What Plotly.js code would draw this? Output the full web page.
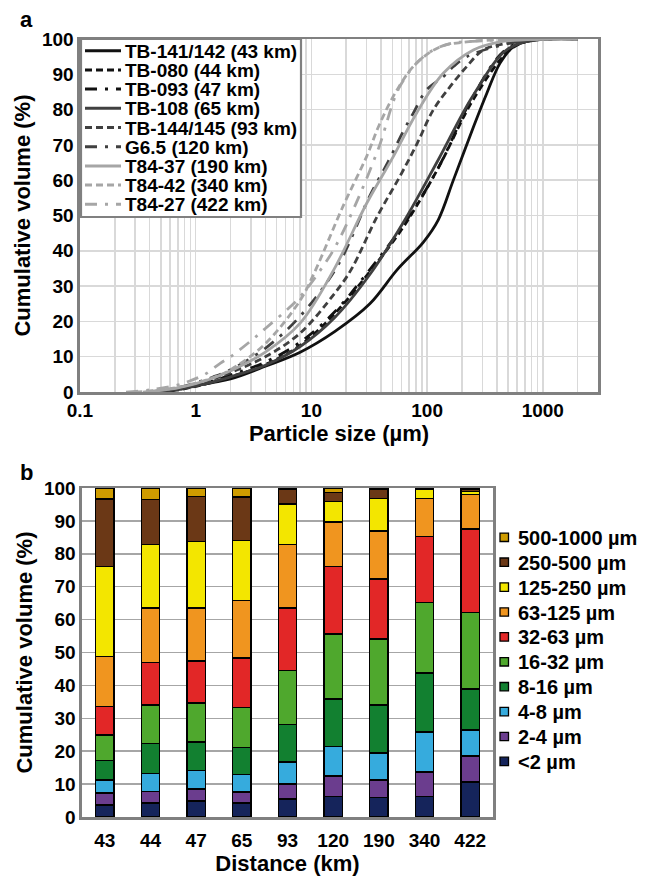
<!DOCTYPE html>
<html><head><meta charset="utf-8">
<script src="https://cdn.plot.ly/plotly-3.0.1.min.js"></script>
<style>html,body{margin:0;padding:0;background:#fff;}#chart{width:646px;height:879px;}</style>
</head><body><div id="chart"></div>
<script>
// ---------- Panel a: cumulative grain-size curves ----------
const curveNames = ['TB-141/142 (43 km)','TB-080 (44 km)','TB-093 (47 km)','TB-108 (65 km)','TB-144/145 (93 km)','G6.5 (120 km)','T84-37 (190 km)','T84-42 (340 km)','T84-27 (422 km)'];

const size141 = [0.45,0.7,1,1.4,2,4,8,16,32,55,93,125,169,251,327,426,555,800,2000];
const cum141  = [0,0.8,1.8,2.7,3.7,7.3,11.3,17.2,25.0,34.6,42.5,48.8,60.1,75.0,84.5,93.1,97.8,99.6,100];

const size080 = [0.5,0.7,1,1.4,2,4,8,16,32,63,125,250,500,700,1000,2000];
const cum080  = [0,0.6,1.6,2.8,4.3,7.8,13.2,22.3,34.1,47.0,63.5,82.8,96.5,99.2,100,100];

const size093 = [0.5,0.7,1,1.4,2,4,8,16,32,63,125,250,500,1000,2000];
const cum093  = [0,0.7,1.8,3.1,4.8,8.5,14.1,22.8,34.7,47.5,63.5,83.8,97.5,100,100];

const size108 = [0.45,0.7,1,1.4,2,4,8,16,32,63,125,250,500,1000,2000];
const cum108  = [0,0.7,1.7,2.8,4.3,7.6,12.9,21.2,33.3,48.3,65.8,84.0,97.2,100,100];

const size144 = [0.4,0.7,1,1.4,2,4,8,16,22,37,58,82,113,158,220,306,490,1000,2000];
const cum144  = [0,1.0,2.2,3.6,5.5,10.0,16.7,28.1,34.6,49.7,61.0,70.4,79.9,86.5,92.2,96.9,98.8,100,100];

const sizeG65 = [0.4,0.7,1,1.4,2,4,8,17,32,46,63,76,99,138,169,220,500,1000,2000];
const cumG65  = [0,1.2,2.6,4.2,6.3,12.4,21.5,36.0,55.6,65.2,74.2,79.0,85.6,89.3,92.2,95.0,98.7,100,100];

const size37 = [0.35,0.6,1,1.4,2,4,8,15.6,30,51,81,138,251,426,1000,2000];
const cum37  = [0,0.8,2.4,3.9,6.0,11.3,19.5,34.6,53.4,66.7,79.0,90.3,96.9,99.2,100,100];

const size42 = [0.3,0.5,0.7,1,1.4,2,4,8,10.5,19,30,39,55,80,130,220,500,1000,2000];
const cum42  = [0,0.6,1.3,2.5,4.0,6.3,13.7,26.0,33.5,53.0,66.7,76.0,85.6,93.0,97.8,99.2,99.9,100,100];

const size27 = [0.25,0.4,0.7,0.9,1.2,1.64,2,3,4,6,8,12,16,24,38,58,93,150,300,1000,2000];
const cum27  = [0,0.6,2.0,3.2,5.0,8.2,10.0,14.5,18.0,23.0,27.0,34.6,41.0,53.0,69.0,86.5,95.0,98.5,99.5,100,100];

const xTickVals = [0.1,1,10,100,1000];
const xTickText = ['0.1','1','10','100','1000'];

// ---------- Panel b: stacked size fractions ----------
const distances = ['43','44','47','65','93','120','190','340','422'];
const classNames = ['<2 µm','2-4 µm','4-8 µm','8-16 µm','16-32 µm','32-63 µm','63-125 µm','125-250 µm','250-500 µm','500-1000 µm'];
const fLt2     = [3.7,4.3,4.8,4.3,5.5,6.3,6.0,6.3,10.6];
const f2_4     = [3.6,3.5,3.7,3.3,4.5,6.1,5.3,7.4,8.0];
const f4_8     = [4.0,5.4,5.6,5.3,6.7,9.1,8.2,12.1,7.9];
const f8_16    = [5.9,9.1,8.7,8.3,11.4,14.4,14.6,18.0,12.4];
const f16_32   = [7.8,11.8,11.9,12.1,16.4,19.7,20.0,21.4,23.3];
const f32_63   = [8.6,12.9,12.8,15.0,19.0,20.6,18.3,20.1,25.4];
const f63_125  = [15.2,16.5,16.0,17.5,19.3,13.4,14.6,11.5,10.4];
const f125_250 = [27.4,19.3,20.3,18.2,12.3,6.3,9.8,2.9,1.0];
const f250_500 = [20.5,13.7,13.7,13.2,4.4,2.8,2.9,0.2,0.7];
const f500_1000= [3.3,3.5,2.5,2.8,0.5,1.3,0.3,0.0,0.3];

const classColors = ['#15245b','#6b3d8e','#36abdd','#128030','#4fa82d','#e22727','#f0951f','#f3e600','#6b3816','#cf9c00'];

const curveData = [
  [size141,cum141],[size080,cum080],[size093,cum093],[size108,cum108],[size144,cum144],
  [sizeG65,cumG65],[size37,cum37],[size42,cum42],[size27,cum27]
];
const BLK='#111111', DRK='#404040', LGT='#a6a6a6';
const DASH='7px,4px', DDOT='12px,8px,3px,8px';
const curveStyle = [
  {color:BLK,dash:'solid'},{color:BLK,dash:DASH},{color:BLK,dash:DDOT},
  {color:DRK,dash:'solid'},{color:DRK,dash:DASH},{color:DRK,dash:DDOT},
  {color:LGT,dash:'solid'},{color:LGT,dash:DASH},{color:LGT,dash:DDOT}
];

const traces = [];
curveData.forEach((c,i)=>{
  traces.push({
    type:'scatter', mode:'lines', x:c[0], y:c[1], name:curveNames[i],
    xaxis:'x', yaxis:'y', showlegend:false,
    line:{color:curveStyle[i].color, dash:curveStyle[i].dash, width:2.8, shape:'spline', smoothing:1},
    hoverinfo:'skip'
  });
});

const fracs = [fLt2,f2_4,f4_8,f8_16,f16_32,f32_63,f63_125,f125_250,f250_500,f500_1000];
fracs.forEach((f,i)=>{
  traces.push({
    type:'bar', x:distances, y:f, name:classNames[i],
    xaxis:'x2', yaxis:'y2', showlegend:false,
    marker:{color:classColors[i], line:{color:'#000', width:1.5}},
    hoverinfo:'skip'
  });
});

const W=646, H=879;
const px = v => v/W, py = v => 1 - v/H;
const FONT = 'Liberation Sans, Arial, Helvetica, sans-serif';
const tickF = {family:FONT, size:19, color:'#000', weight:'bold'};
const titleF = {family:FONT, size:22, color:'#000', weight:'bold'};

// ---- hand-built legends (shapes + annotations) ----
const shapes = [];
const annotations = [];
// legend a
shapes.push({type:'rect', xref:'paper', yref:'paper', x0:px(81), x1:px(301), y0:py(39), y1:py(217),
  fillcolor:'#fff', line:{color:'#808080', width:2.2}, layer:'above'});
curveNames.forEach((n,i)=>{
  const yc = 50.7 + 19.2*i;
  shapes.push({type:'line', xref:'paper', yref:'paper', x0:px(85), x1:px(121), y0:py(yc), y1:py(yc),
    line:{color:curveStyle[i].color, dash:curveStyle[i].dash, width:3}, layer:'above'});
  annotations.push({text:n, xref:'paper', yref:'paper', x:px(123), y:py(yc+0.5), xanchor:'left', yanchor:'middle',
    showarrow:false, font:{family:FONT, size:19, color:'#000', weight:'bold'}});
});
// legend b (reversed order: largest class on top)
for (let k=0;k<classNames.length;k++){
  const i = classNames.length-1-k;
  const yc = 537.3 + 24.9*k;
  shapes.push({type:'rect', xref:'paper', yref:'paper', x0:px(500), x1:px(508.5), y0:py(yc-4.2), y1:py(yc+4.2),
    fillcolor:classColors[i], line:{color:'#000', width:1.3}, layer:'above'});
  annotations.push({text:classNames[i], xref:'paper', yref:'paper', x:px(516), y:py(yc+0.5), xanchor:'left', yanchor:'middle',
    showarrow:false, font:{family:FONT, size:20, color:'#000', weight:'bold'}});
}
// panel letters
annotations.push({text:'a', x:px(26), y:py(20), xref:'paper', yref:'paper', showarrow:false, xanchor:'center', yanchor:'middle', font:{family:FONT,size:22,color:'#000',weight:'bold'}});
annotations.push({text:'b', x:px(26), y:py(472), xref:'paper', yref:'paper', showarrow:false, xanchor:'center', yanchor:'middle', font:{family:FONT,size:22,color:'#000',weight:'bold'}});

const layout = {
  width:W, height:H,
  margin:{l:0,r:0,t:0,b:0},
  paper_bgcolor:'#fff', plot_bgcolor:'#fff',
  font:{family:FONT, color:'#000'},
  showlegend:false,
  barmode:'stack', bargap:0.6,
  xaxis:{
    type:'log', range:[-1, Math.log10(3000)], domain:[0.1238,0.9257], anchor:'y',
    tickvals:xTickVals, ticktext:xTickText, tickfont:tickF, ticks:'',
    showline:true, linecolor:'#808080', linewidth:2.5, mirror:true,
    showgrid:true, gridcolor:'#d9d9d9', gridwidth:1.5, zeroline:false,
    minor:{dtick:'D1', showgrid:true, gridcolor:'#d9d9d9', gridwidth:1.5, ticks:''},
    title:{text:'Particle size (µm)', font:titleF, standoff:4}
  },
  yaxis:{
    range:[0,100], dtick:10, domain:[0.554,0.9556], anchor:'x',
    tickfont:tickF, ticks:'', showline:true, linecolor:'#808080', linewidth:2.5, mirror:true,
    showgrid:true, gridcolor:'#d9d9d9', gridwidth:1.5, zeroline:false,
    title:{text:'Cumulative volume (%)', font:titleF, standoff:6}
  },
  xaxis2:{
    type:'category', domain:[0.1269,0.7632], anchor:'y2',
    tickfont:tickF, ticks:'', showline:true, linecolor:'#808080', linewidth:2.5, mirror:true,
    showgrid:false, zeroline:false, ticklabelstandoff:5,
    title:{text:'Distance (km)', font:titleF, standoff:0}
  },
  yaxis2:{
    range:[0,100], dtick:10, domain:[0.0705,0.4448], anchor:'x2',
    tickfont:tickF, ticks:'', showline:true, linecolor:'#808080', linewidth:2.5, mirror:true,
    showgrid:true, gridcolor:'#a6a6a6', gridwidth:1.5, zeroline:false,
    title:{text:'Cumulative volume (%)', font:titleF, standoff:6}
  },
  shapes: shapes,
  annotations: annotations
};

Plotly.newPlot('chart', traces, layout, {staticPlot:true, displayModeBar:false});
</script></body></html>
